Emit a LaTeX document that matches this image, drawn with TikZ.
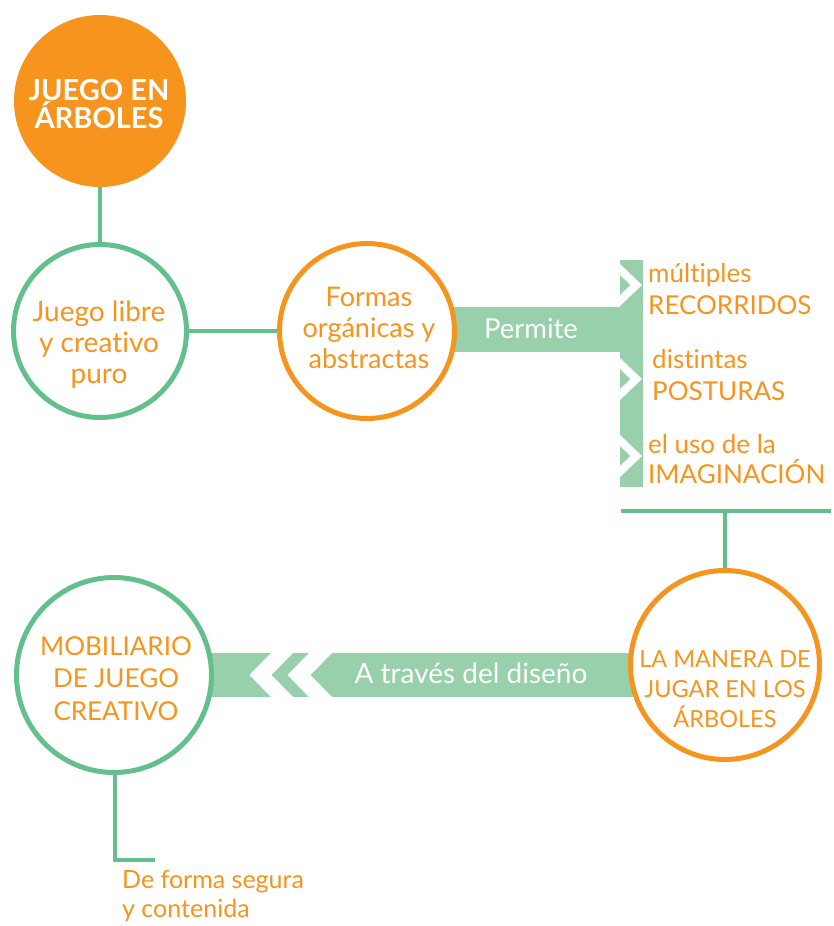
\documentclass[tikz,border=0pt]{standalone}
\usepackage{fontspec}
\setmainfont{Lato}[Ligatures=NoCommon]
\definecolor{org}{HTML}{F7941D}
\definecolor{grn}{HTML}{63C08C}
\definecolor{band}{HTML}{97D0AA}
\begin{document}
\begin{tikzpicture}[x=1pt,y=-1pt,
  ring/.style={circle, draw, line width=5pt, fill=white, inner sep=0pt},
  link/.style={draw=grn, line width=4pt},
  otxt/.style={text=org, align=center, inner sep=0pt, anchor=base},
  ltxt/.style={text=org, align=left, inner sep=0pt, anchor=base west},
  wtxt/.style={text=white, inner sep=0pt, anchor=base, font=\fontsize{28}{31}\selectfont}]
\useasboundingbox (0,0) rectangle (833,926);
% bands
\fill[band] (367,307) rectangle (620,352);
\fill[band] (620,260) rectangle (643,487);
\foreach \cy in {285,379,456}
  \fill[white] (619,\cy-22) -- (642,\cy) -- (619,\cy+22) -- (619,\cy+11) -- (630.5,\cy) -- (619,\cy-11) -- cycle;
\fill[band] (114,653) rectangle (725,697);
\fill[white] (272,652) -- (294,652) -- (271.5,675) -- (294,698) -- (272,698) -- (249.5,675) -- cycle;
\fill[white] (310,652) -- (333,652) -- (310.5,675) -- (333,698) -- (310,698) -- (287.5,675) -- cycle;
% circles
\node[circle, fill=org, minimum size=172pt, inner sep=0pt] (top) at (100,101) {};
\node[ring, draw=grn, minimum size=173pt] (c1) at (100,331) {};
\node[ring, draw=org, minimum size=175pt] (c2) at (367,331) {};
\node[ring, draw=org, minimum size=189pt] (c3) at (725,665) {};
\node[ring, draw=grn, minimum size=195pt] (c4) at (114,675) {};
% connectors
\path[link] (top.south) -- (c1.north);
\path[link] (c1.east) -- (c2.west);
\coordinate (hl) at (621,511);
\coordinate (hr) at (831,511);
\coordinate (hm) at (725,511);
\path[link] (hl) -- (hr);
\path[link] (hm) -- (c3.north);
\coordinate (lc) at (115,860);
\coordinate (le) at (155,860);
\path[link] (c4.south -| lc) -- (lc) -- (le);
% texts
\node[text=white, align=center, inner sep=0pt, anchor=base, font=\fontsize{29}{28}\selectfont\bfseries] (tt) at (99,128) {JUEGO EN\\ÁRBOLES};
\node[otxt, font=\fontsize{28}{31}\selectfont] (t1) at (99,383) {Juego libre\\y creativo\\puro};
\node[otxt, font=\fontsize{27}{31}\selectfont] (t2) at (369,368) {Formas\\orgánicas y\\abstractas};
\node[otxt, font=\fontsize{23.5}{30}\selectfont] (t3) at (725,727) {LA MANERA DE\\JUGAR EN LOS\\ÁRBOLES};
\node[otxt, font=\fontsize{26}{32.5}\selectfont] (t4) at (116,720) {MOBILIARIO\\DE JUEGO\\CREATIVO};
\node[wtxt, font=\fontsize{27.5}{31}\selectfont] (perm) at (531,338) {Permite};
\node[wtxt, font=\fontsize{28}{31}\selectfont] (trav) at (471,683) {A través del diseño};
\node[ltxt, font=\fontsize{26}{32}\selectfont] (r1) at (648,314) {múltiples\\RECORRIDOS};
\node[ltxt, font=\fontsize{26}{32}\selectfont] (r2) at (652,400) {distintas\\POSTURAS};
\node[ltxt, font=\fontsize{26}{30}\selectfont] (r3) at (648,483) {el uso de la\\IMAGINACIÓN};
\node[ltxt, font=\fontsize{25}{29}\selectfont] (df) at (122,917) {De forma segura\\y contenida};
\end{tikzpicture}
\end{document}
